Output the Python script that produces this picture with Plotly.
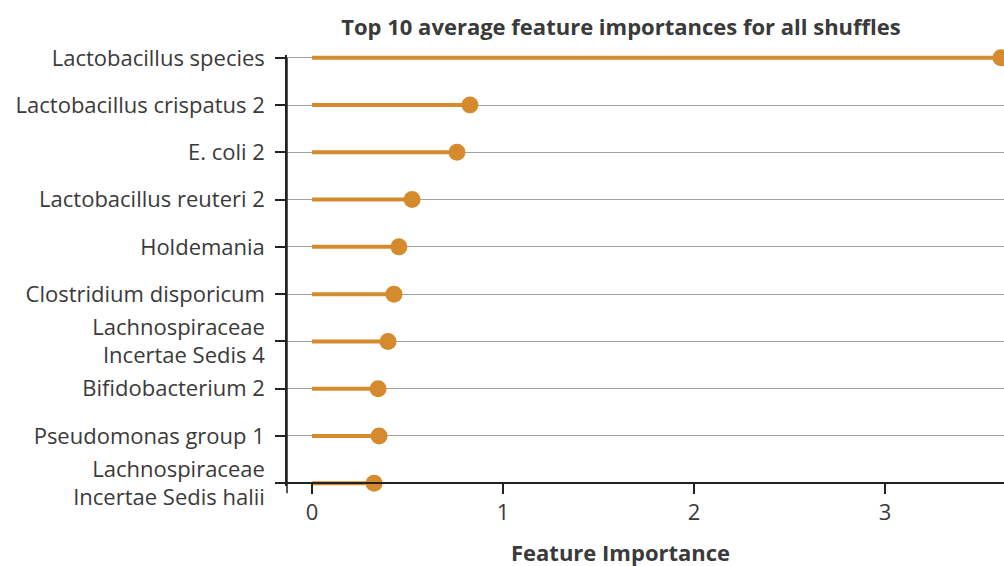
import plotly.graph_objects as go

features = [
    "Lactobacillus species",
    "Lactobacillus crispatus 2",
    "E. coli 2",
    "Lactobacillus reuteri 2",
    "Holdemania",
    "Clostridium disporicum",
    "Lachnospiraceae<br>Incertae Sedis 4",
    "Bifidobacterium 2",
    "Pseudomonas group 1",
    "Lachnospiraceae<br>Incertae Sedis halii",
]
importance = [3.607, 0.827, 0.759, 0.524, 0.455, 0.429, 0.398, 0.346, 0.351, 0.325]
x_ticks = [0, 1, 2, 3]

ORANGE = "#D68A2E"
TXT = "#3a3a3a"
AX = "#222"
W, H = 1004, 566
FS = 22

# plot geometry: first category at y=58px, last at y=483px
n = len(features)
step = (483 - 58) / (n - 1)
pad = 0.06
T = 58 - pad * step
Bpx = 483 + pad * step
L, R = 287, 0
B = H - Bpx
ph = Bpx - T
edge = pad / (n - 1 + 2 * pad)  # paper y of last category

stem_x, stem_y = [], []
for f, v in zip(features, importance):
    stem_x += [0, v, None]
    stem_y += [f, f, None]

fig = go.Figure()
fig.add_trace(go.Scatter(x=stem_x, y=stem_y, mode="lines",
                         line=dict(color=ORANGE, width=4), hoverinfo="skip",
                         showlegend=False))
fig.add_trace(go.Scatter(x=importance, y=features, mode="markers",
                         marker=dict(color=ORANGE, size=17), showlegend=False,
                         cliponaxis=False))

fig.update_layout(
    width=W, height=H,
    margin=dict(l=L, r=R, t=T, b=B, pad=0),
    paper_bgcolor="white", plot_bgcolor="white",
    font=dict(family="Open Sans", size=FS, color=TXT),
    title=dict(text="<b>Top 10 average feature importances for all shuffles</b>",
               x=621 / W, xanchor="center", xref="container",
               y=1 - 27 / H, yanchor="middle", yref="container",
               font=dict(size=FS, color=TXT)),
    xaxis=dict(range=[-0.131, 3.623], tickvals=x_ticks, showgrid=False,
               zeroline=False, showline=True, linecolor=AX, linewidth=1.5,
               anchor="free", position=edge,
               ticks="outside", ticklen=10, tickcolor=AX, tickwidth=1.5,
               tickfont=dict(size=FS, color=TXT)),
    yaxis=dict(type="category", categoryorder="array", categoryarray=features,
               range=[n - 1 + pad, -pad], showgrid=True, gridcolor="#a0a0a0",
               gridwidth=1, zeroline=False, showline=True, linecolor=AX,
               linewidth=1.5,
               ticks="outside", ticklen=10, tickcolor=AX, ticklabelstandoff=6,
               tickwidth=1.5, tickfont=dict(size=FS, color=TXT)),
    shapes=[dict(type="line", xref="paper", yref="paper", x0=0, x1=0,
                 y0=edge - 10 / ph, y1=1 - edge, line=dict(color=AX, width=1.5))],
    annotations=[dict(text="<b>Feature Importance</b>", xref="paper", yref="paper",
                      x=(620 - L) / (W - L - R), y=-(552 - Bpx) / ph,
                      xanchor="center", yanchor="middle", showarrow=False,
                      font=dict(size=FS, color=TXT))],
)

fig.write_html("out.html", config={"displayModeBar": False},
               post_script="document.body.style.margin='0';document.body.style.overflow='hidden';")
